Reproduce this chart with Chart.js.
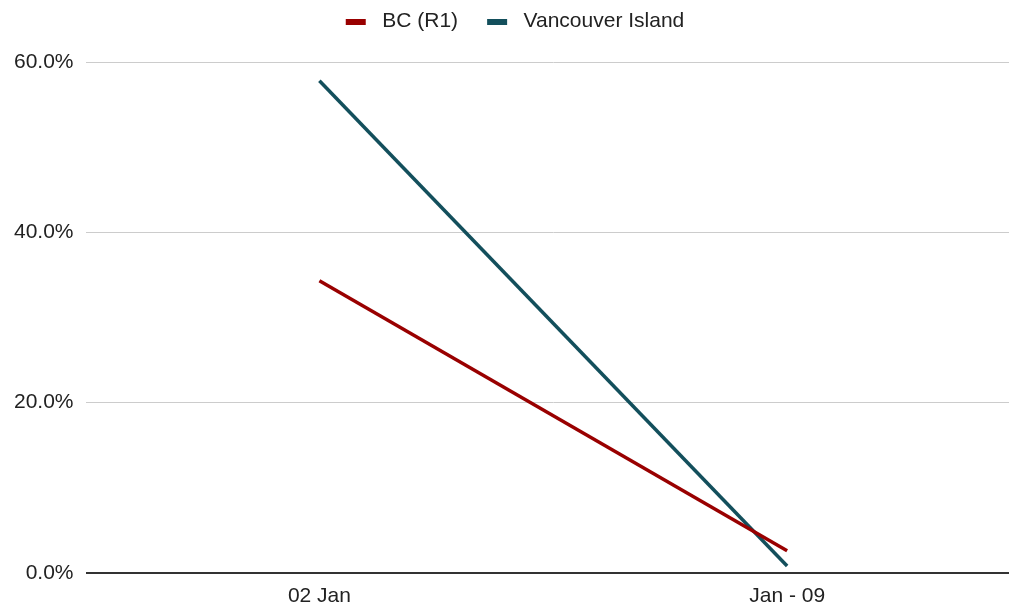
<!DOCTYPE html>
<html>
<head>
<meta charset="utf-8">
<script src="https://cdn.jsdelivr.net/npm/chart.js@4"></script>
<style>
  html, body { margin: 0; padding: 0; background: #ffffff; }
  #frame { width: 1009px; height: 606px; overflow: hidden; position: relative; }
  #holder { width: 1021px; height: 620px; position: relative; }
</style>
</head>
<body>
<div id="frame"><div id="holder"><canvas id="chart"></canvas></div></div>
<script>
// Weekly share (%) by region
const categories = ['02 Jan', 'Jan - 09'];
const bcR1 = [34.3, 2.6];
const vancouverIsland = [57.8, 0.8];
const seriesNames = ['BC (R1)', 'Vancouver Island'];
const seriesColors = ['#990000', '#134f5c'];

const FONT = "'Liberation Sans', Arial, Helvetica, sans-serif";

// Legend swatch: a 20x6 bar with blank margins so the spacing around it is even
function swatch(color) {
  const c = document.createElement('canvas');
  c.width = 44; c.height = 6;
  const g = c.getContext('2d');
  g.fillStyle = color;
  g.fillRect(18, 0, 20, 6);
  return c;
}

// Leave extra room under the legend and centre it over the visible area
const legendSpacing = {
  id: 'legendSpacing',
  beforeInit(chart) {
    const fit = chart.legend.fit;
    chart.legend.fit = function () {
      fit.call(this);
      this.height += 20;
    };
  },
  afterLayout(chart) {
    chart.legend.right -= 11;
  }
};

function lineDataset(label, data, color) {
  return {
    label: label,
    data: data,
    borderColor: color,
    backgroundColor: color,
    borderWidth: 3.5,
    pointRadius: 0,
    pointHoverRadius: 0,
    pointStyle: swatch(color),
    tension: 0,
    fill: false
  };
}

new Chart(document.getElementById('chart'), {
  type: 'line',
  data: {
    labels: categories,
    datasets: [
      lineDataset(seriesNames[0], bcR1, seriesColors[0]),
      lineDataset(seriesNames[1], vancouverIsland, seriesColors[1])
    ]
  },
  options: {
    responsive: true,
    maintainAspectRatio: false,
    animation: false,
    events: [],
    layout: { padding: { left: 2, right: 0, top: 0, bottom: 0 } },
    plugins: {
      tooltip: { enabled: false },
      legend: {
        position: 'top',
        align: 'center',
        labels: {
          usePointStyle: true,
          pointStyleWidth: 44,
          boxHeight: 6,
          padding: 11,
          color: '#222222',
          font: { family: FONT, size: 21 }
        }
      }
    },
    scales: {
      x: {
        type: 'category',
        offset: true,
        grid: { display: false, drawTicks: false },
        border: { display: false },
        ticks: {
          padding: 11,
          color: '#222222',
          maxRotation: 0,
          font: { family: FONT, size: 21 }
        }
      },
      y: {
        min: 0,
        max: 60,
        border: { display: false },
        grid: {
          drawTicks: false,
          color: (ctx) => ctx.tick && ctx.tick.value === 0 ? '#333333' : '#cccccc',
          lineWidth: (ctx) => ctx.tick && ctx.tick.value === 0 ? 2 : 1
        },
        ticks: {
          stepSize: 20,
          padding: 12,
          color: '#222222',
          font: { family: FONT, size: 21 },
          callback: (v) => v.toFixed(1) + '%'
        }
      }
    }
  },
  plugins: [legendSpacing]
});
</script>
</body>
</html>
